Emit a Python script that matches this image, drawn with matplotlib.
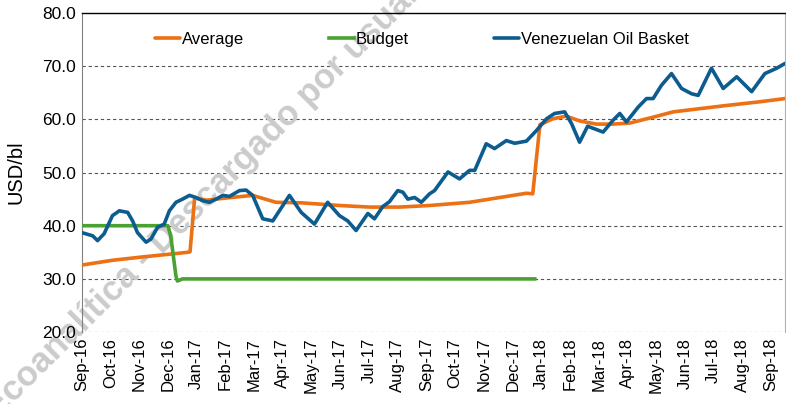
import numpy as np
import matplotlib
matplotlib.use("Agg")
import matplotlib.pyplot as plt

# Meses desde Sep-16 (0) hasta Sep-18 (24)
months = ["Sep-16", "Oct-16", "Nov-16", "Dec-16", "Jan-17", "Feb-17", "Mar-17",
          "Apr-17", "May-17", "Jun-17", "Jul-17", "Aug-17", "Sep-17", "Oct-17",
          "Nov-17", "Dec-17", "Jan-18", "Feb-18", "Mar-18", "Apr-18", "May-18",
          "Jun-18", "Jul-18", "Aug-18", "Sep-18"]

# Cesta venezolana (USD/bl), posicion en meses
basket_x = [0.0, 0.38, 0.55, 0.78, 1.07, 1.31, 1.60, 1.77, 1.94, 2.24, 2.41, 2.64,
            2.87, 3.05, 3.28, 3.51, 3.75, 3.98, 4.21, 4.44, 4.68, 4.91, 5.14, 5.49,
            5.72, 5.95, 6.30, 6.65, 7.23, 7.64, 8.10, 8.56, 8.97, 9.26, 9.55, 9.96,
            10.19, 10.48, 10.71, 11.00, 11.18, 11.35, 11.59, 11.82, 12.11, 12.28,
            12.75, 13.15, 13.50, 13.68, 14.08, 14.37, 14.78, 15.07, 15.48, 15.83,
            16.18, 16.46, 16.81, 17.05, 17.33, 17.61, 18.15, 18.49, 18.73, 18.96,
            19.37, 19.66, 19.89, 20.18, 20.53, 20.88, 21.23, 21.46, 21.92, 22.33,
            22.80, 23.32, 23.78, 24.19, 24.48]
basket = [38.7, 38.1, 37.2, 38.5, 41.9, 42.8, 42.5, 40.9, 38.7, 36.9, 37.5, 39.7,
          40.3, 42.8, 44.4, 45.0, 45.7, 45.3, 44.7, 44.4, 45.0, 45.7, 45.5, 46.6,
          46.7, 45.7, 41.3, 40.9, 45.7, 42.5, 40.3, 44.4, 41.9, 40.9, 39.1, 42.3,
          41.3, 43.6, 44.5, 46.6, 46.3, 45.0, 45.3, 44.4, 46.0, 46.6,
          50.1, 48.8, 50.4, 50.4, 55.4, 54.5, 56.0, 55.5, 55.9, 57.9,
          60.1, 61.1, 61.4, 59.2, 55.7, 58.7, 57.6, 59.8, 61.1, 59.5,
          62.3, 63.9, 63.9, 66.4, 68.6, 65.8, 64.8, 64.5, 69.6, 65.8,
          68.0, 65.2, 68.6, 69.6, 70.5]

# Promedio
avg_x = [0.0, 1.07, 2.24, 3.16, 3.69, 3.77, 3.93, 4.33, 5.02, 5.95, 6.76, 7.64,
         8.97, 10.02, 11.06, 12.11, 13.50, 14.55, 15.48, 15.70, 15.95, 16.40,
         16.87, 17.33, 17.91, 18.49, 19.08, 19.89, 20.59, 21.51, 22.44, 23.61, 24.48]
average = [32.6, 33.5, 34.2, 34.7, 35.0, 35.1, 45.2, 44.8, 45.2, 45.7, 44.4, 44.3,
           43.8, 43.5, 43.5, 43.8, 44.4, 45.3, 46.1, 46.0, 59.0, 60.1,
           60.6, 59.7, 59.1, 59.1, 59.3, 60.4, 61.4, 62.0, 62.6, 63.3, 63.9]

# Presupuesto
budget_x = [0.0, 3.0, 3.1, 3.28, 3.33, 3.51, 15.77]
budget = [40.0, 40.0, 38.0, 30.5, 29.6, 30.0, 30.0]

c_avg = "#EC7014"
c_bud = "#4AA232"
c_bas = "#0D5C8F"

plt.rcParams['font.family'] = ['Liberation Sans', 'DejaVu Sans']

fig = plt.figure(figsize=(7.86, 4.04), dpi=100)
ax = fig.add_axes([0.104, 0.178, 0.8947, 0.79])

ax.plot(avg_x, average, color=c_avg, lw=2.6, label="Average", zorder=3,
        solid_joinstyle="round", solid_capstyle="round")
ax.plot(budget_x, budget, color=c_bud, lw=2.6, label="Budget", zorder=3,
        solid_joinstyle="round")
ax.plot(basket_x, basket, color=c_bas, lw=2.6, label="Venezuelan Oil Basket",
        zorder=4, solid_joinstyle="round", solid_capstyle="round")

ax.set_xlim(0, 24.48)
ax.set_ylim(20, 80)
ax.set_yticks(np.arange(20, 81, 10))
ax.set_yticklabels(["%.1f" % v for v in np.arange(20, 81, 10)], fontsize=12.5)
ax.set_xticks(range(len(months)))
ax.set_xticklabels(months, rotation=90, fontsize=12)
ax.tick_params(axis='both', length=0, pad=4)
ax.set_ylabel("USD/bl", fontsize=14.5)
ax.yaxis.set_label_coords(-0.08, 0.5)

for v in range(20, 80, 10):
    ax.axhline(v, color="#555555", lw=0.8, ls=(0, (3, 2.5)), zorder=1)

ax.spines['bottom'].set_visible(False)
ax.spines['left'].set_color("#808080")
ax.spines['right'].set_color("#b0b0b0")
ax.spines['right'].set_linewidth(0.8)
ax.spines['top'].set_color("black")
ax.spines['top'].set_linewidth(1.0)

fig.legend(*ax.get_legend_handles_labels(), loc="upper left",
           bbox_to_anchor=(0.197, 0.92), ncol=3, frameon=False, fontsize=12,
           handlelength=1.5, handletextpad=0.12, columnspacing=5.1,
           borderpad=0, borderaxespad=0)

# marca de agua
ax.text(0.272, 0.53, "Ecoanalítica - Descargado por usuario", transform=fig.transFigure,
        rotation=45, fontsize=25, fontweight="bold", color="#cbcbcb",
        ha="center", va="center", zorder=1.5, clip_on=False)

fig.savefig("out.png", dpi=100)
